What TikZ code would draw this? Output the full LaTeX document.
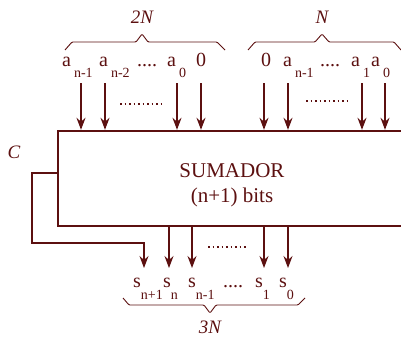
\documentclass[tikz,border=0pt]{standalone}
\usepackage{fontspec}
\setmainfont{Liberation Serif}
\usetikzlibrary{arrows.meta, positioning, calc}
\definecolor{granate}{HTML}{5C1010}

\newcommand{\subA}[2]{#1\hspace{3pt}\raisebox{-11pt}{\fontsize{14}{14}\selectfont #2}}
\newcommand{\subS}[2]{#1\raisebox{-12pt}{\fontsize{14}{14}\selectfont #2}}

\begin{document}
\begin{tikzpicture}[x=1pt, y=-1pt,
    every node/.style={text=granate, font=\fontsize{20}{22}\selectfont, inner sep=0pt},
    flecha/.style={draw=granate, line width=1.1pt, -{Stealth[length=12pt,width=9pt,inset=4pt]}},
    puntos/.style={draw=granate, line width=1.5pt, dash pattern=on 1.5pt off 3pt},
    llave/.style={draw=granate, line width=0.9pt, rounded corners=1pt},
    rotulo/.style={font=\itshape\fontsize{19}{21}\selectfont},
    etiq/.style={anchor=base west},
]

% Frame
\useasboundingbox (0,0) rectangle (401,340);

% === Adder block ===
\node[draw=granate, line width=2.4pt, minimum width=348pt, minimum height=95pt] 
      (sum) at (232,178.5) {};
\node[align=center, font=\fontsize{21}{25}\selectfont] 
      (tsum) at (232,185) {SUMADOR\\(n+1) bits};

% === Input A (2N) ===
\node[etiq] (an1) at (62,66) {\subA{a}{n-1}};
\node[etiq] (an2) at (99,66) {\subA{a}{n-2}};
\node[etiq] (pa) at (137,66) {....};
\node[etiq] (a0) at (167,66) {\subA{a}{0}};
\node[anchor=base] (z1) at (201,66) {0};

\coordinate (e1) at (81,83);
\coordinate (e2) at (105,83);
\coordinate (e3) at (177,83);
\coordinate (e4) at (201,83);
\draw[flecha] (e1) -- (e1 |- sum.north);
\draw[flecha] (e2) -- (e2 |- sum.north);
\draw[flecha] (e3) -- (e3 |- sum.north);
\draw[flecha] (e4) -- (e4 |- sum.north);
\draw[puntos] (120,104) -- (162,104);

\draw[llave] (65,50) -- (72,42) -- (136,42) -- (142,34) -- (148,42) -- (217,42) -- (225,50);
\node[rotulo] (n2) at (142,17) {2N};

% === Input B (N) ===
\node[anchor=base] (z2) at (266,66) {0};
\node[etiq] (bn1) at (283,66) {\subA{a}{n-1}};
\node[etiq] (pb) at (320,66) {....};
\node[etiq] (b1) at (351,66) {\subA{a}{1}};
\node[etiq] (b0) at (371,66) {\subA{a}{0}};

\coordinate (e5) at (264,83);
\coordinate (e6) at (288,83);
\coordinate (e7) at (362,83);
\coordinate (e8) at (385,83);
\draw[flecha] (e5) -- (e5 |- sum.north);
\draw[flecha] (e6) -- (e6 |- sum.north);
\draw[flecha] (e7) -- (e7 |- sum.north);
\draw[flecha] (e8) -- (e8 |- sum.north);
\draw[puntos] (306,101) -- (347,101);

\draw[llave] (248,50) -- (255,42) -- (315,42) -- (322,34) -- (329,42) -- (394,42) -- (401,50);
\node[rotulo] (n1) at (322,17) {N};

% === Carry ===
\node[rotulo] (cin) at (14,152) {C};
\coordinate (cw) at (32,243);
\coordinate (s0) at (144,268);
\draw[flecha] ($(sum.west)+(0,-5.5)$) -| (cw) -| (s0);

% === Output S (3N) ===
\coordinate (s1) at (169,268);
\coordinate (s2) at (192,268);
\coordinate (s3) at (264,268);
\coordinate (s4) at (288,268);
\draw[flecha] (s1 |- sum.south) -- (s1);
\draw[flecha] (s2 |- sum.south) -- (s2);
\draw[flecha] (s3 |- sum.south) -- (s3);
\draw[flecha] (s4 |- sum.south) -- (s4);
\draw[puntos] (208,247) -- (248,247);

\node[etiq] (sn1) at (133,287) {\subS{s}{n+1}};
\node[etiq] (sn) at (163,287) {\subS{s}{n}};
\node[etiq] (snm) at (188,287) {\subS{s}{n-1}};
\node[etiq] (ps) at (223,287) {....};
\node[etiq] (ss1) at (255,287) {\subS{s}{1}};
\node[etiq] (ss0) at (279,287) {\subS{s}{0}};

\draw[llave] (123,298) -- (129,305) -- (204,305) -- (210,313) -- (216,305) -- (298,305) -- (305,298);
\node[rotulo] (n3) at (210,327) {3N};

\end{tikzpicture}
\end{document}
